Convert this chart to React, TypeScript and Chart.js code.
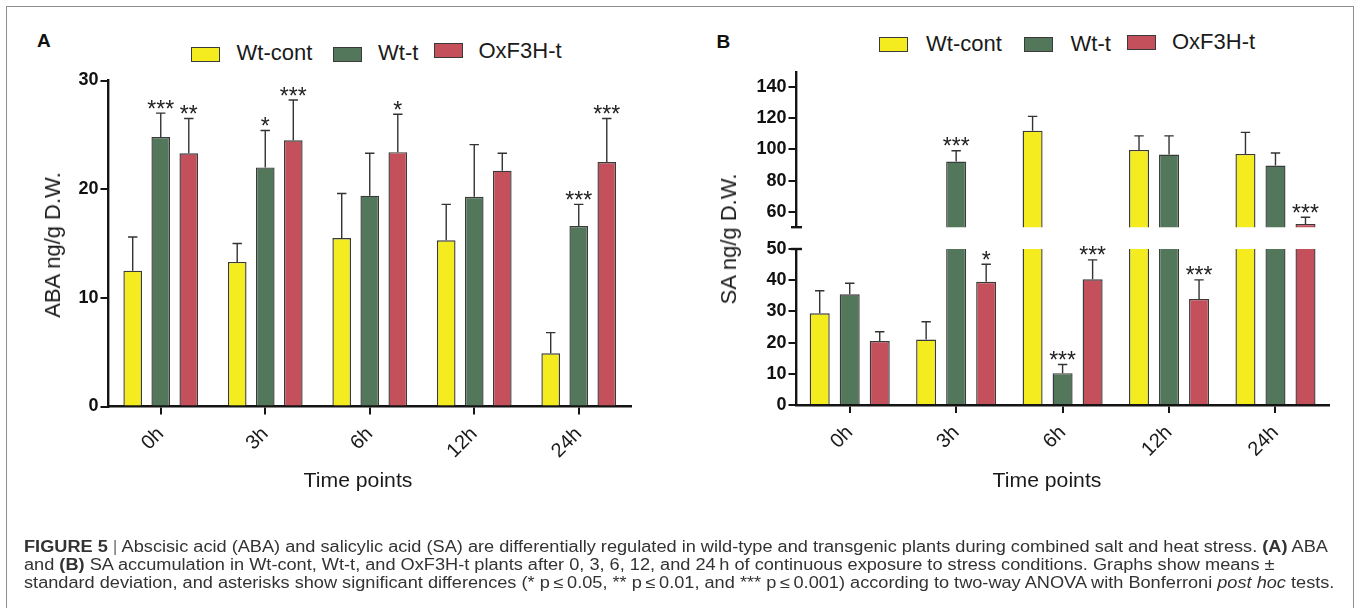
import React, { useEffect, useRef } from 'react';
import { Chart, registerables } from 'chart.js';

Chart.register(...registerables);

const FONT = '"Liberation Sans", Arial, Helvetica, sans-serif';

// ---------- data ----------
const categories = ['0h', '3h', '6h', '12h', '24h'];
const seriesNames = ['Wt-cont', 'Wt-t', 'OxF3H-t'];
const seriesColors = ['#F4EC1E', '#53775A', '#C4505C'];

// Panel A: ABA ng/g D.W.
const abaWtCont = [12.5, 13.3, 15.5, 15.3, 4.9];
const abaWtContErr = [3.1, 1.7, 4.1, 3.3, 1.9];
const abaWtT = [24.8, 22.0, 19.4, 19.3, 16.6];
const abaWtTErr = [2.2, 3.4, 3.9, 4.8, 2.0];
const abaOx = [23.3, 24.5, 23.4, 21.7, 22.5];
const abaOxErr = [3.2, 3.7, 3.5, 1.6, 4.0];
const abaWtContSig = ['', '', '', '', ''];
const abaWtTSig = ['***', '*', '', '', '***'];
const abaOxSig = ['**', '***', '*', '', '***'];
const abaTicks = [0, 10, 20, 30];

// Panel B: SA ng/g D.W. (broken axis)
const saWtCont = [29.4, 21.0, 112.1, 99.7, 97.1];
const saWtContErr = [7.2, 5.7, 9.2, 9.0, 13.9];
const saWtT = [35.5, 92.2, 10.2, 96.7, 89.6];
const saWtTErr = [3.5, 7.0, 2.8, 12.0, 8.1];
const saOx = [20.5, 39.5, 40.3, 34.0, 52.1];
const saOxErr = [3.0, 5.6, 6.2, 6.1, 4.3];
const saWtContSig = ['', '', '', '', ''];
const saWtTSig = ['', '***', '***', '', ''];
const saOxSig = ['', '*', '***', '***', '***'];
const saLowTicks = [0, 10, 20, 30, 40, 50];
const saHighTicks = [60, 80, 100, 120, 140];
const saBreak = 50;
const saMax = 150;

// ---------- chart builder ----------
type Mode = 'full' | 'low' | 'high';
type Cfg = {
  values: number[][];
  errors: number[][];
  sig: string[][];
  min: number;
  max: number;
  ticks: number[];
  showX: boolean;
  mode: Mode;
  brk: number;
  yWidth: number;
  xHeight: number;
  padding: { left: number; right: number; top: number; bottom: number };
  catPct: number;
  barPct: number;
  tickFont: number;
  capTop?: boolean;
  capBottom?: boolean;
};

const AXIS = '#141414';
const BAR_BORDER = '#3a3a3a';

function makeConfig(cfg: Cfg): any {
  const datasets = cfg.values.map((vals, i) => ({
    label: seriesNames[i],
    data: vals.map((v) =>
      cfg.mode === 'low' ? Math.min(v, cfg.brk) : cfg.mode === 'high' ? (v > cfg.brk ? v : null) : v
    ),
    backgroundColor: seriesColors[i],
    borderColor: BAR_BORDER,
    borderWidth: (c: any) => {
      const raw = vals[c.dataIndex];
      if (cfg.mode === 'low' && raw > cfg.brk) return { top: 0, bottom: 0, left: 1.4, right: 1.4 };
      return 1.4;
    },
    borderSkipped: 'start',
    categoryPercentage: cfg.catPct,
    barPercentage: cfg.barPct,
  }));

  const errPlugin = {
    id: 'errbars',
    afterDatasetsDraw(chart: any) {
      const { ctx } = chart;
      const y = chart.scales.y;
      ctx.save();
      ctx.strokeStyle = '#333';
      ctx.lineWidth = 1.4;
      ctx.fillStyle = '#222';
      ctx.font = `23px ${FONT}`;
      ctx.textAlign = 'center';
      ctx.textBaseline = 'alphabetic';
      cfg.values.forEach((vals, i) => {
        const meta = chart.getDatasetMeta(i);
        vals.forEach((v, j) => {
          if (cfg.mode === 'low' && v > cfg.brk) return;
          if (cfg.mode === 'high' && v <= cfg.brk) return;
          const el = meta.data[j];
          if (!el) return;
          const x = el.x;
          const y0 = y.getPixelForValue(v);
          const y1 = y.getPixelForValue(v + cfg.errors[i][j]);
          ctx.beginPath();
          ctx.moveTo(x, y0);
          ctx.lineTo(x, y1);
          ctx.moveTo(x - 4.7, y1);
          ctx.lineTo(x + 4.7, y1);
          ctx.stroke();
          const s = cfg.sig[i][j];
          if (s) ctx.fillText(s, x, y1 + 3.5);
        });
      });
      ctx.restore();
    },
    afterDraw(chart: any) {
      const { ctx, chartArea } = chart;
      ctx.save();
      ctx.strokeStyle = AXIS;
      ctx.lineWidth = 2.4;
      const x = chartArea.left;
      if (cfg.capBottom) {
        ctx.beginPath();
        ctx.moveTo(x - 5.5, chartArea.bottom);
        ctx.lineTo(x + 5.5, chartArea.bottom);
        ctx.stroke();
      }
      if (cfg.capTop) {
        ctx.beginPath();
        ctx.moveTo(x - 5.5, chartArea.top);
        ctx.lineTo(x + 5.5, chartArea.top);
        ctx.stroke();
      }
      ctx.restore();
    },
  };

  return {
    type: 'bar',
    data: { labels: categories, datasets },
    plugins: [errPlugin],
    options: {
      responsive: false,
      animation: false,
      events: [],
      layout: { padding: cfg.padding },
      plugins: { legend: { display: false }, tooltip: { enabled: false }, title: { display: false } },
      scales: {
        x: {
          type: 'category',
          display: cfg.showX,
          offset: true,
          grid: {
            display: true,
            drawOnChartArea: false,
            drawTicks: true,
            tickLength: 8,
            offset: false,
            color: AXIS,
            lineWidth: 2,
          },
          border: { display: true, color: AXIS, width: 2.4 },
          ticks: {
            color: '#1a1a1a',
            font: { family: FONT, size: 20 },
            minRotation: 45,
            maxRotation: 45,
            padding: 8,
            autoSkip: false,
          },
          afterFit: (s: any) => {
            s.height = cfg.xHeight;
            s.paddingLeft = 0;
            s.paddingRight = 0;
          },
        },
        y: {
          type: 'linear',
          min: cfg.min,
          max: cfg.max,
          afterBuildTicks: (s: any) => {
            s.ticks = cfg.ticks.map((v) => ({ value: v }));
          },
          grid: {
            display: true,
            drawOnChartArea: false,
            drawTicks: true,
            tickLength: 8,
            color: AXIS,
            lineWidth: 2,
          },
          border: { display: true, color: AXIS, width: 2.4 },
          ticks: {
            color: '#111',
            font: { family: FONT, size: cfg.tickFont, weight: 'bold' },
            padding: 2,
          },
          afterFit: (s: any) => {
            s.width = cfg.yWidth;
          },
        },
      },
    },
  };
}

function BarCanvas({ cfg, left, top, width, height }: { cfg: Cfg; left: number; top: number; width: number; height: number }) {
  const ref = useRef<HTMLCanvasElement | null>(null);
  useEffect(() => {
    if (!ref.current) return;
    const chart = new Chart(ref.current, makeConfig(cfg));
    return () => chart.destroy();
  }, []);
  return (
    <canvas
      ref={ref}
      width={width}
      height={height}
      style={{ position: 'absolute', left, top, width, height, display: 'block' }}
    />
  );
}

// ---------- text helpers ----------
function Txt({
  x, base, size, children, bold, align = 'left', color = '#1a1a1a', sx = 1,
}: { x: number; base: number; size: number; children: any; bold?: boolean; align?: 'left' | 'center'; color?: string; sx?: number }) {
  const top = base - 0.8465 * size;
  const tr = align === 'center' ? `translateX(-50%) scaleX(${sx})` : `scaleX(${sx})`;
  return (
    <div
      style={{
        position: 'absolute',
        left: x,
        top,
        fontFamily: FONT,
        fontSize: size,
        lineHeight: `${size}px`,
        fontWeight: bold ? 'bold' : 'normal',
        whiteSpace: 'nowrap',
        color,
        transform: tr,
        transformOrigin: align === 'center' ? 'center' : 'left',
      }}
    >
      {children}
    </div>
  );
}

function VTitle({ cx, cy, size, children }: { cx: number; cy: number; size: number; children: any }) {
  return (
    <div
      style={{
        position: 'absolute',
        left: cx,
        top: cy,
        fontFamily: FONT,
        fontSize: size,
        lineHeight: `${size}px`,
        whiteSpace: 'nowrap',
        color: '#1a1a1a',
        transform: 'translate(-50%, -50%) rotate(-90deg)',
      }}
    >
      {children}
    </div>
  );
}

function Legend({ items }: { items: { sx: number; sy: number; sw: number; tx: number; base: number }[] }) {
  return (
    <>
      {items.map((it, i) => (
        <React.Fragment key={i}>
          <div
            style={{
              position: 'absolute',
              left: it.sx,
              top: it.sy,
              width: it.sw,
              height: 15,
              boxSizing: 'border-box',
              background: seriesColors[i],
              border: '1.5px solid #3a3a3a',
            }}
          />
          <Txt x={it.tx} base={it.base} size={22}>
            {seriesNames[i]}
          </Txt>
        </React.Fragment>
      ))}
    </>
  );
}

// ---------- configs ----------
const cfgA: Cfg = {
  values: [abaWtCont, abaWtT, abaOx],
  errors: [abaWtContErr, abaWtTErr, abaOxErr],
  sig: [abaWtContSig, abaWtTSig, abaOxSig],
  min: 0,
  max: 30,
  ticks: abaTicks,
  showX: true,
  mode: 'full',
  brk: 0,
  yWidth: 60,
  xHeight: 133.5,
  padding: { left: 28.5, right: 29, top: 20.5, bottom: 0 },
  catPct: 0.805,
  barPct: 0.665,
  tickFont: 18,
};

const cfgBLow: Cfg = {
  values: [saWtCont, saWtT, saOx],
  errors: [saWtContErr, saWtTErr, saOxErr],
  sig: [saWtContSig, saWtTSig, saOxSig],
  min: 0,
  max: saBreak,
  ticks: saLowTicks,
  showX: true,
  mode: 'low',
  brk: saBreak,
  yWidth: 60,
  xHeight: 135,
  padding: { left: 36.5, right: 21.3, top: 49, bottom: 0 },
  catPct: 0.846,
  barPct: 0.667,
  tickFont: 18,
  capTop: true,
};

const cfgBHigh: Cfg = {
  values: [saWtCont, saWtT, saOx],
  errors: [saWtContErr, saWtTErr, saOxErr],
  sig: [saWtContSig, saWtTSig, saOxSig],
  min: saBreak,
  max: saMax,
  ticks: saHighTicks,
  showX: false,
  mode: 'high',
  brk: saBreak,
  yWidth: 60,
  xHeight: 0,
  padding: { left: 36.5, right: 21.3, top: 31.7, bottom: 11.7 },
  catPct: 0.846,
  barPct: 0.667,
  tickFont: 18,
  capBottom: true,
};

const CAP_SIZE = 15.8;
const CAP_SX = 1.15;

export default function App() {
  return (
    <div style={{ position: 'absolute', left: 0, top: 0, width: 1356, height: 608, overflow: 'hidden', background: '#fff' }}>
      <div
        style={{
          position: 'absolute',
          left: 6,
          top: 6,
          width: 1348,
          height: 700,
          boxSizing: 'border-box',
          border: '1.5px solid #8e8e8e',
        }}
      />

      {/* Panel A */}
      <Txt x={37} base={47} size={19} bold color="#111">A</Txt>
      <Legend
        items={[
          { sx: 191, sy: 47, sw: 29, tx: 236.5, base: 60.7 },
          { sx: 333, sy: 46.5, sw: 29, tx: 378, base: 60.7 },
          { sx: 434, sy: 43, sw: 29, tx: 478.5, base: 58.3 },
        ]}
      />
      <BarCanvas cfg={cfgA} left={20} top={60} width={640} height={480} />
      <VTitle cx={52.5} cy={245} size={22}>ABA ng/g D.W.</VTitle>
      <Txt x={357.5} base={486.7} size={20} align="center" sx={1.06}>Time points</Txt>

      {/* Panel B */}
      <Txt x={716.5} base={48.3} size={19} bold color="#111">B</Txt>
      <Legend
        items={[
          { sx: 879, sy: 37, sw: 29, tx: 926, base: 51.7 },
          { sx: 1024, sy: 37, sw: 29, tx: 1070.5, base: 51.7 },
          { sx: 1127, sy: 35, sw: 29, tx: 1172, base: 50 },
        ]}
      />
      <BarCanvas cfg={cfgBHigh} left={700} top={40} width={650} height={200} />
      <BarCanvas cfg={cfgBLow} left={700} top={200} width={650} height={340} />
      <VTitle cx={729} cy={239} size={22}>SA ng/g D.W.</VTitle>
      <Txt x={1047} base={486.7} size={20} align="center" sx={1.06}>Time points</Txt>

      {/* Caption */}
      <Txt x={24} base={552.7} size={CAP_SIZE} color="#333" sx={CAP_SX}>
        <b>FIGURE 5</b> <span style={{ color: '#777' }}>|</span> Abscisic acid (ABA) and salicylic acid (SA) are differentially regulated in wild-type and transgenic plants during combined salt and heat stress. <b>(A)</b> ABA
      </Txt>
      <Txt x={24} base={570.7} size={CAP_SIZE} color="#333" sx={CAP_SX}>
        and <b>(B)</b> SA accumulation in Wt-cont, Wt-t, and OxF3H-t plants after 0, 3, 6, 12, and 24{'\u2009'}h of continuous exposure to stress conditions. Graphs show means ±
      </Txt>
      <Txt x={24} base={588.3} size={CAP_SIZE} color="#333" sx={CAP_SX}>
        standard deviation, and asterisks show significant differences (* p{'\u2009'}≤{'\u2009'}0.05, ** p{'\u2009'}≤{'\u2009'}0.01, and *** p{'\u2009'}≤{'\u2009'}0.001) according to two-way ANOVA with Bonferroni <i>post hoc</i> tests.
      </Txt>
    </div>
  );
}
